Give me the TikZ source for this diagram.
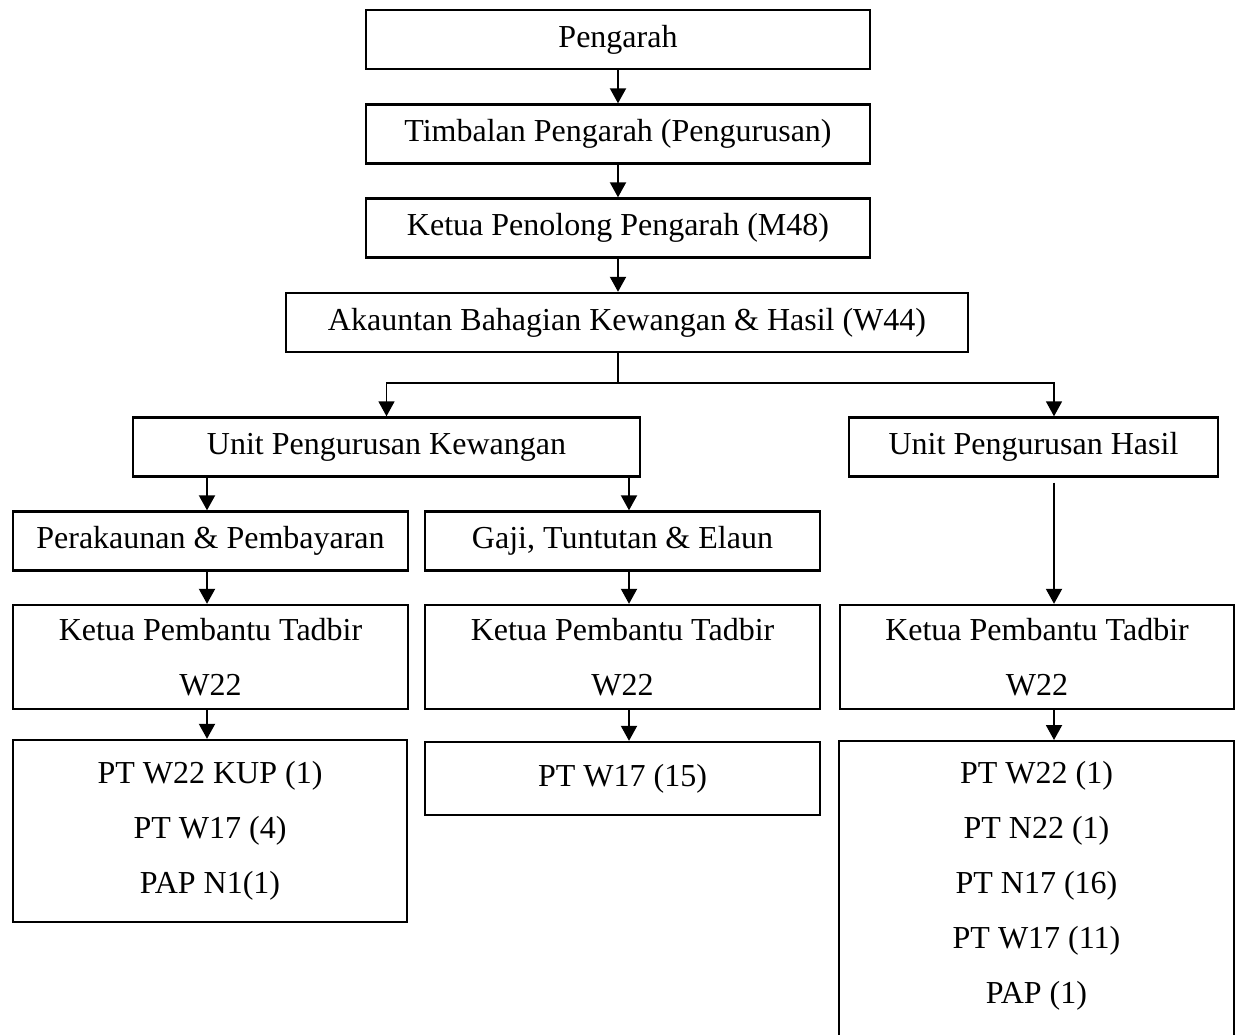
\documentclass[tikz,border=0pt]{standalone}
\usepackage{fontspec}
\setmainfont{Liberation Serif}
\usetikzlibrary{arrows.meta}
\tikzstyle{arr}=[-{Triangle[length=7.5pt,width=8pt]},line width=1pt]

\begin{document}
\begin{tikzpicture}[x=0.5pt,y=-0.5pt,font=\fontsize{16}{27.5}\selectfont]
  \tikzstyle unitbox=[draw,line width=1.2pt,inner sep=0pt,align=center,minimum height=29.5pt];
  \useasboundingbox (0,0) rectangle (1240,1034);
  \clip (0,0) rectangle (1240,1034);
  \foreach \n/\x/\y/\w/\t in {
    pengarah/618/39.5/252/Pengarah,
    timbalan/618/134/252/Timbalan Pengarah (Pengurusan),
    kpp/618/228/252/Ketua Penolong Pengarah (M48),
    akauntan/627/322.5/341/Akauntan Bahagian Kewangan \& Hasil (W44),
    ukewangan/386.5/447/253.5/Unit Pengurusan Kewangan,
    uhasil/1033.5/447/184.5/Unit Pengurusan Hasil,
    bayaran/210.5/541/197.5/Perakaunan \& Pembayaran,
    gaji/622.5/541/197.5/{Gaji, Tuntutan \& Elaun}}
  {
    \node[unitbox,minimum width=\w pt] (\n) at (\x,\y) {\t};
  }
  \node[unitbox,minimum width=197.5pt,minimum height=52pt] (kptA) at (210.5,657)
    {Ketua Pembantu Tadbir\\W22};
  \node[unitbox,minimum width=197.5pt,minimum height=52pt] (kptB) at (622.5,657)
    {Ketua Pembantu Tadbir\\W22};
  \node[unitbox,minimum width=197pt,minimum height=52pt] (kptC) at (1037,657)
    {Ketua Pembantu Tadbir\\W22};
  \node[unitbox,minimum width=197pt,minimum height=91pt] (ptA) at (210,831)
    {PT W22 KUP (1)\\PT W17 (4)\\PAP N1(1)};
  \node[unitbox,minimum width=197.5pt,minimum height=36.5pt] (ptB) at (622.5,778.5)
    {PT W17 (15)};
  % box runs off the bottom of the page
  \node[unitbox,minimum width=197.5pt,minimum height=160pt,anchor=north] (ptC) at (1036.5,740) {};
  \node[align=center] (ptClist) at (1036.5,886)
    {PT W22 (1)\\PT N22 (1)\\PT N17 (16)\\PT W17 (11)\\PAP (1)};

  \coordinate (colA) at (207,0);
  \coordinate (colB) at (629,0);
  \coordinate (colC) at (1054,0);
  \coordinate (split) at (618,383);

  \foreach \a/\b in {pengarah/timbalan, timbalan/kpp}
    \draw[arr] (\a) -- (\b);
  \draw[arr] (kpp.south) -- (kpp.south |- akauntan.north);
  \draw[line width=0.8pt] (akauntan.south -| split) -- (split);
  \draw[arr,line width=0.8pt] (split) -| (ukewangan.north);
  \draw[arr,line width=0.8pt] (split) -| (uhasil.north -| colC);
  \draw[arr,shorten <=2.5pt] (uhasil.south -| colC) -- (kptC.north -| colC);
  \foreach \a/\b/\c in {ukewangan/bayaran/colA, ukewangan/gaji/colB,
    bayaran/kptA/colA, gaji/kptB/colB, kptA/ptA/colA, kptB/ptB/colB, kptC/ptC/colC}
    \draw[arr] (\a.south -| \c) -- (\b.north -| \c);
\end{tikzpicture}
\end{document}
